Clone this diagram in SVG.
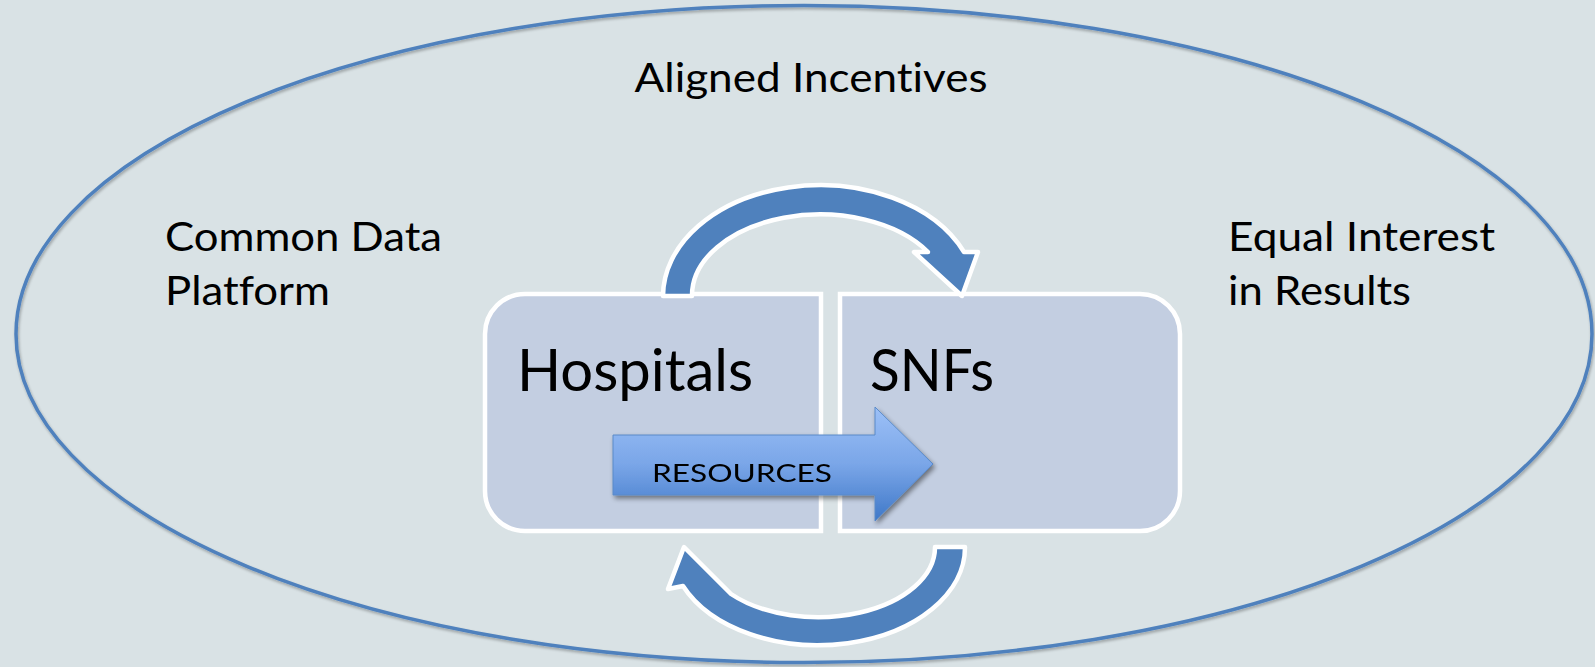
<svg xmlns="http://www.w3.org/2000/svg" width="1595" height="667" viewBox="0 0 1595 667">
<defs>
<style>
.lbl{font-family:Lato,"Liberation Sans",sans-serif;fill:#000;font-variant-ligatures:none;font-feature-settings:"liga" 0,"clig" 0}
.box{fill:#C3CEE1;stroke:#fff;stroke-width:4.5}
.cyc{fill:#4F81BD;stroke:#fff;stroke-width:4.5;stroke-linejoin:round}
</style>
<linearGradient id="resGrad" x1="0" y1="0" x2="0" y2="1">
<stop offset="0" stop-color="#9CC0F7"/>
<stop offset="0.5" stop-color="#7AA6E8"/>
<stop offset="1" stop-color="#3F78C8"/>
</linearGradient>
<filter id="sh" x="-10%" y="-10%" width="130%" height="140%">
<feGaussianBlur in="SourceAlpha" stdDeviation="2.5"/>
<feOffset dx="2" dy="3" result="b"/>
<feComponentTransfer><feFuncA type="linear" slope="0.45"/></feComponentTransfer>
<feMerge><feMergeNode/><feMergeNode in="SourceGraphic"/></feMerge>
</filter>
<filter id="esh" x="-5%" y="-5%" width="110%" height="112%">
<feGaussianBlur in="SourceAlpha" stdDeviation="1.5"/>
<feOffset dx="1" dy="2"/>
<feComponentTransfer><feFuncA type="linear" slope="0.3"/></feComponentTransfer>
<feMerge><feMergeNode/><feMergeNode in="SourceGraphic"/></feMerge>
</filter>
</defs>
<rect width="1595" height="667" fill="#D9E2E5"/>
<g id="ellipse">
<ellipse cx="804" cy="334" rx="788" ry="328.5" fill="none" stroke="#4F81BD" stroke-width="3.5" filter="url(#esh)"/>
<text class="lbl" x="811" y="92" font-size="40" text-anchor="middle" textLength="353" lengthAdjust="spacingAndGlyphs">Aligned Incentives</text>
</g>
<g id="common-data">
<text class="lbl" font-size="40"><tspan x="165" y="251" textLength="277" lengthAdjust="spacingAndGlyphs">Common Data</tspan><tspan x="165" y="305" textLength="165" lengthAdjust="spacingAndGlyphs">Platform</tspan></text>
</g>
<g id="equal-interest">
<text class="lbl" font-size="40"><tspan x="1228" y="251" textLength="267" lengthAdjust="spacingAndGlyphs">Equal Interest</tspan><tspan x="1228" y="305" textLength="183" lengthAdjust="spacingAndGlyphs">in Results</tspan></text>
</g>
<g id="hospitals">
<path class="box" d="M525 294 H821 V531 H525 A40 40 0 0 1 485 491 V334 A40 40 0 0 1 525 294 Z"/>
<text class="lbl" x="517" y="391" font-size="58" textLength="236" lengthAdjust="spacingAndGlyphs">Hospitals</text>
</g>
<g id="snfs">
<path class="box" d="M840 294 H1140 A40 40 0 0 1 1180 334 V491 A40 40 0 0 1 1140 531 H840 Z"/>
<text class="lbl" x="870" y="391" font-size="58" textLength="124" lengthAdjust="spacingAndGlyphs">SNFs</text>
</g>
<g id="connectors">
<path class="cyc" d="M663 296 A157 111 0 0 1 964 252 L978 252 L962 296 L914 252 L928 252 A128 81 0 0 0 692 296 Z"/>
<path class="cyc" d="M965 547 A147 98 0 0 1 683 586 L668 589 L684 547 L727 590 L731 594 A117 70 0 0 0 935 547 Z"/>
<g id="resources" filter="url(#sh)">
<path d="M613 435 H875 V407 L933 464 L875 521 V495 H613 Z" fill="url(#resGrad)" stroke="#5A8AC8" stroke-width="1"/>
<text class="lbl" x="652" y="482" font-size="25" textLength="180" lengthAdjust="spacingAndGlyphs">RESOURCES</text>
</g>
</g>
</svg>
